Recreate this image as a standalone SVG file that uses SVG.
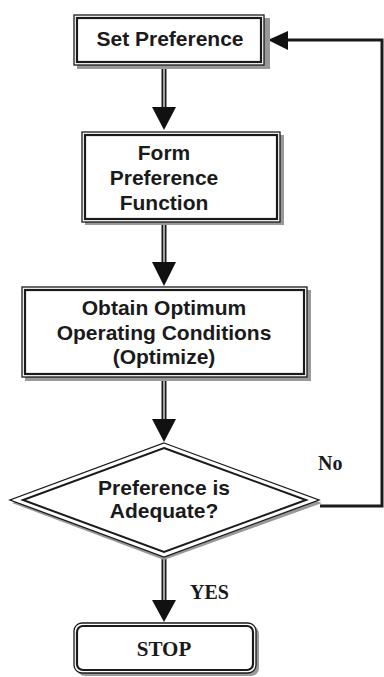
<svg xmlns="http://www.w3.org/2000/svg" width="384" height="677" viewBox="0 0 384 677">
<defs>
<style>
.sh{fill:#999;stroke:none}
.box{fill:#fff;stroke:#1a1a1a;stroke-width:1.3}
.inner{fill:none;stroke:#1a1a1a;stroke-width:2.2}
.t{font-family:"Liberation Sans",Arial,sans-serif;font-weight:bold;font-size:21px;fill:#1a1a1a;text-anchor:middle}
.s{font-family:"Liberation Serif","Times New Roman",serif;font-weight:bold;fill:#1a1a1a}
.shaft{stroke:#1a1a1a;stroke-width:5;fill:none}
.shaftw{stroke:#fff;stroke-width:1.2;fill:none}
.line{stroke:#1a1a1a;stroke-width:3;fill:none}
.head{fill:#111}
</style>
</defs>
<g id="connectors">
<line class="shaft" x1="164" y1="66" x2="164" y2="108"/>
<line class="shaftw" x1="164" y1="68" x2="164" y2="108"/>
<polygon class="head" points="152,107 176,107 164,130"/>
<line class="shaft" x1="164" y1="222" x2="164" y2="263"/>
<line class="shaftw" x1="164" y1="224" x2="164" y2="263"/>
<polygon class="head" points="152,262 176,262 164,286"/>
<line class="shaft" x1="164" y1="378" x2="164" y2="420"/>
<line class="shaftw" x1="164" y1="380" x2="164" y2="420"/>
<polygon class="head" points="152,419 176,419 164,442"/>
<line class="shaft" x1="164" y1="556" x2="164" y2="601"/>
<line class="shaftw" x1="164" y1="558" x2="164" y2="601"/>
<polygon class="head" points="152,600 176,600 164,622"/>
<polyline class="line" points="320,506 382,506 382,40 286,40"/>
<polygon class="head" points="268,40 288,31 288,50"/>
<text class="s" x="318" y="470" font-size="20">No</text>
<text class="s" x="190" y="599" font-size="20">YES</text>
</g>
<g id="set-preference">
<rect class="sh" x="77" y="18" width="193" height="51"/>
<rect class="box" x="74" y="15" width="190" height="50"/>
<rect class="inner" x="77" y="18" width="184" height="44"/>
<text class="t" x="170" y="46">Set Preference</text>
</g>
<g id="form-preference-function">
<rect class="sh" x="85" y="135" width="199" height="90"/>
<rect class="box" x="82" y="132" width="198" height="90"/>
<rect class="inner" x="85" y="135" width="192" height="84"/>
<text class="t" x="164" y="160">Form</text>
<text class="t" x="164" y="185">Preference</text>
<text class="t" x="164" y="210">Function</text>
</g>
<g id="obtain-optimum">
<rect class="sh" x="25" y="290" width="286" height="91"/>
<rect class="box" x="22" y="287" width="285" height="90"/>
<rect class="inner" x="25" y="290" width="279" height="84"/>
<text class="t" x="164" y="315">Obtain Optimum</text>
<text class="t" x="164" y="340">Operating Conditions</text>
<text class="t" x="164" y="364">(Optimize)</text>
</g>
<g id="preference-adequate">
<polygon class="sh" points="164,447 322,503 164,560 12,503"/>
<polygon class="box" points="164,443 319,500 164,557 10,500"/>
<polygon fill="none" stroke="#1a1a1a" stroke-width="2" points="164,448 306,500 164,552 23,500"/>
<text class="t" x="164" y="495">Preference is</text>
<text class="t" x="164" y="518">Adequate?</text>
</g>
<g id="stop">
<rect class="sh" x="77" y="626" width="182" height="50" rx="8"/>
<rect class="box" x="74" y="623" width="182" height="50" rx="8"/>
<rect class="inner" x="77" y="626" width="176" height="44" rx="6"/>
<text class="s" x="164" y="656" font-size="21" text-anchor="middle">STOP</text>
</g>
</svg>
